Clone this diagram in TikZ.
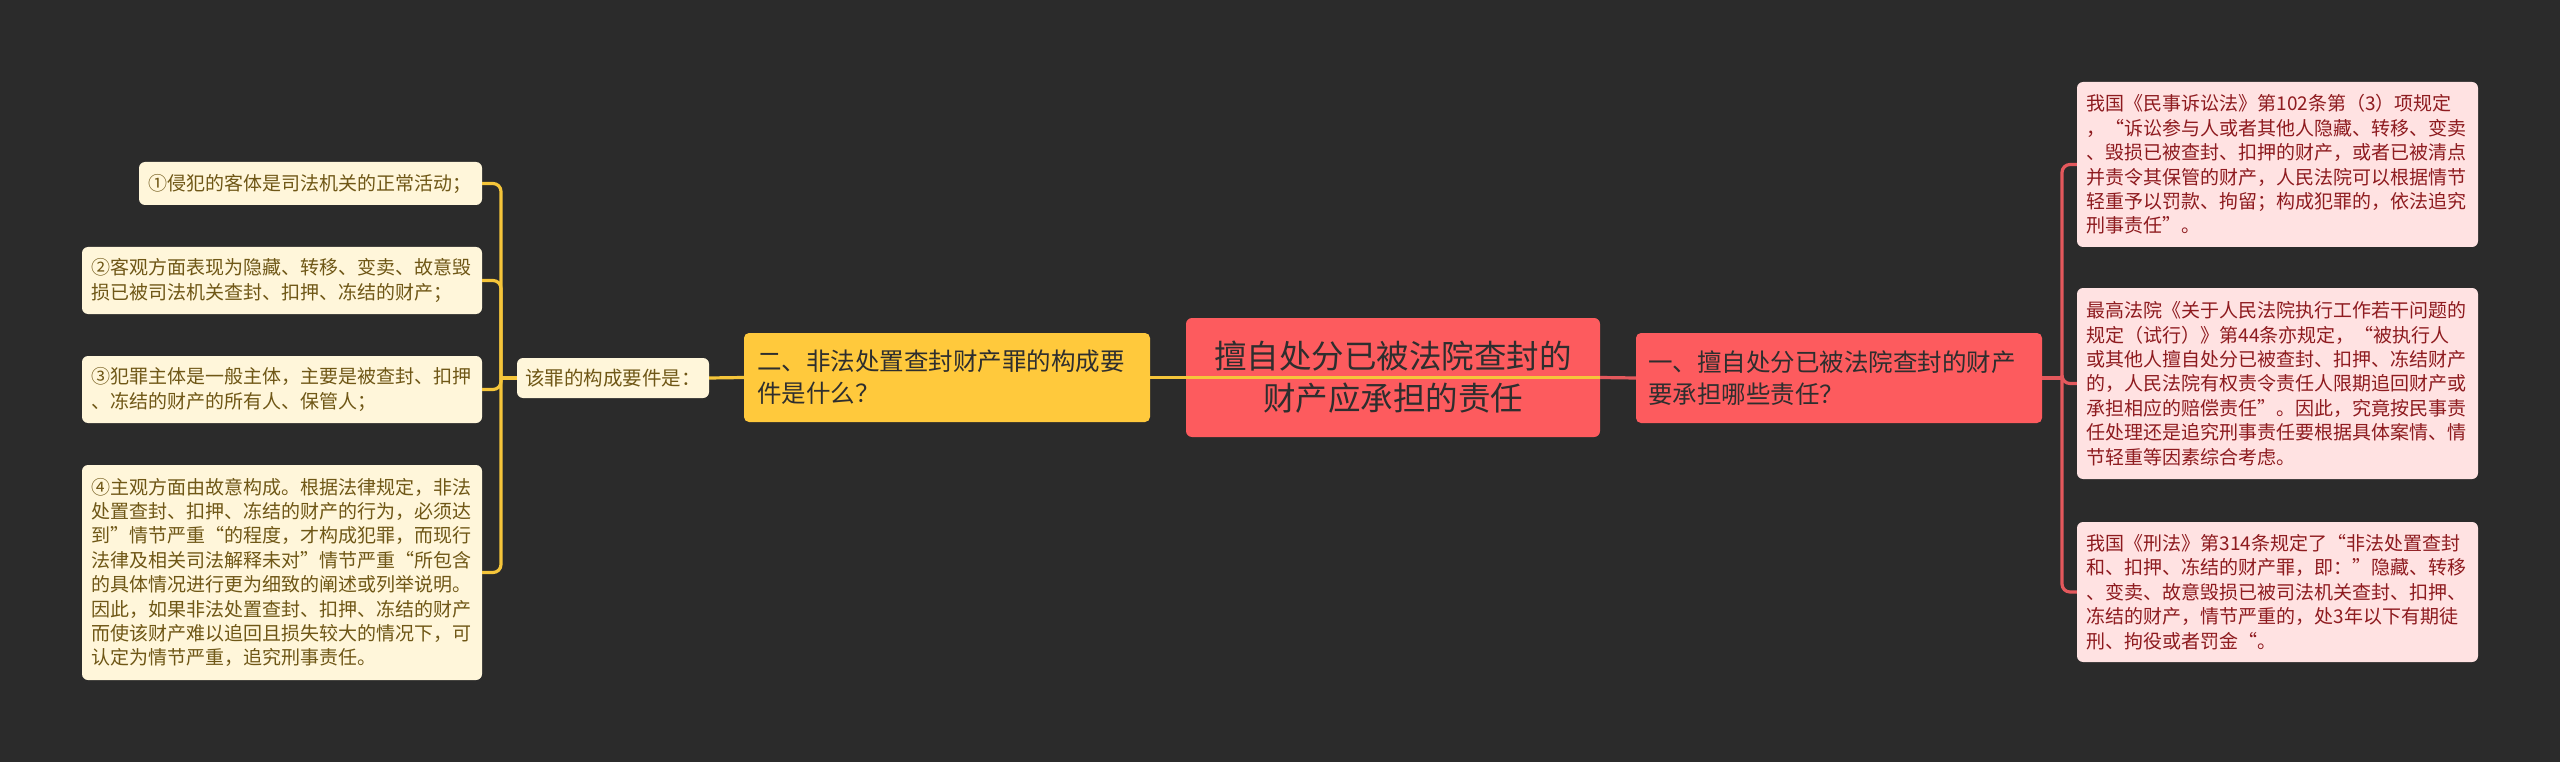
\documentclass[tikz,border=0pt]{standalone}
\usepackage{fontspec}
\setmainfont{Noto Sans CJK SC}
\definecolor{bgdark}{HTML}{2B2B2B}
\definecolor{rootred}{HTML}{FD5B5E}
\definecolor{gold}{HTML}{FFC93C}
\definecolor{cream}{HTML}{FFF6DA}
\definecolor{leafpink}{HTML}{FFE2E2}
\definecolor{olive}{HTML}{6F5716}
\definecolor{wine}{HTML}{8E1B1F}
\definecolor{inkgray}{HTML}{2E2E2E}
\definecolor{goldline}{HTML}{F5C53A}
\definecolor{redline}{HTML}{E4585C}

\begin{document}
\begin{tikzpicture}[x=1pt,y=-1pt]
    \tikzstyle{every node}+=[inner sep=0pt]
    \tikzstyle{rootbox}=[fill=rootred, rounded corners=6pt, text=inkgray, align=center, minimum width=414pt, minimum height=119pt, font=\fontsize{32.5}{42}\selectfont]
    \tikzstyle{redbox}=[fill=rootred, rounded corners=5pt, text=inkgray, align=left, inner xsep=12pt, text width=382pt, minimum height=90pt, font=\fontsize{24.5}{32}\selectfont]
    \tikzstyle{goldbox}=[fill=gold, rounded corners=5pt, text=inkgray, align=left, inner xsep=13pt, text width=380pt, minimum height=89pt, font=\fontsize{24.5}{32}\selectfont]
    \tikzstyle{subbox}=[fill=cream, rounded corners=6pt, text=olive, align=center, minimum width=192pt, minimum height=40pt, font=\fontsize{19.5}{24}\selectfont]
    \tikzstyle{creambox}=[fill=cream, rounded corners=6pt, text=olive, align=left, inner xsep=9.5pt, text width=381pt, font=\fontsize{19}{24.4}\selectfont]
    \tikzstyle{pinkbox}=[fill=leafpink, rounded corners=6pt, text=wine, align=left, inner xsep=9.5pt, text width=382pt, font=\fontsize{19}{24.4}\selectfont]
    \tikzstyle{yline}=[draw=goldline, line width=3.2pt]
    \tikzstyle{rline}=[draw=redline, line width=3.2pt]
    \fill [bgdark] (0,0) rectangle (2560,762);
    \useasboundingbox (0,0) rectangle (2560,762);
    \node [rootbox] (root) at (1393,377.5) {擅自处分已被法院查封的\\财产应承担的责任};
    \node [redbox] (one) at (1839,378) {一、擅自处分已被法院查封的财产\\要承担哪些责任？};
    \node [goldbox] (two) at (947,377.5) {二、非法处置查封财产罪的构成要\\件是什么？};
    \node [subbox] (cond) at (613,378) {该罪的构成要件是：};
    \node [creambox, text width=324pt, minimum height=43pt] (e1) at (310.5,183.5) {①侵犯的客体是司法机关的正常活动；};
    \node [creambox, minimum height=67pt] (e2) at (282,280.5) {②客观方面表现为隐藏、转移、变卖、故意毁\\
损已被司法机关查封、扣押、冻结的财产；};
    \node [creambox, minimum height=67pt] (e3) at (282,389.5) {③犯罪主体是一般主体，主要是被查封、扣押\\
、冻结的财产的所有人、保管人；};
    \node [creambox, minimum height=215pt] (e4) at (282,572.5) {④主观方面由故意构成。根据法律规定，非法\\
处置查封、扣押、冻结的财产的行为，必须达\\
到”情节严重“的程度，才构成犯罪，而现行\\
法律及相关司法解释未对”情节严重“所包含\\
的具体情况进行更为细致的阐述或列举说明。\\
因此，如果非法处置查封、扣押、冻结的财产\\
而使该财产难以追回且损失较大的情况下，可\\
认定为情节严重，追究刑事责任。};
    \node [pinkbox, minimum height=165pt] (r1) at (2277.5,164.5) {我国《民事诉讼法》第102条第（3）项规定\\
，“诉讼参与人或者其他人隐藏、转移、变卖\\
、毁损已被查封、扣押的财产，或者已被清点\\
并责令其保管的财产，人民法院可以根据情节\\
轻重予以罚款、拘留；构成犯罪的，依法追究\\
刑事责任”。};
    \node [pinkbox, minimum height=191pt] (r2) at (2277.5,383.5) {最高法院《关于人民法院执行工作若干问题的\\
规定（试行）》第44条亦规定，“被执行人\\
或其他人擅自处分已被查封、扣押、冻结财产\\
的，人民法院有权责令责任人限期追回财产或\\
承担相应的赔偿责任”。因此，究竟按民事责\\
任处理还是追究刑事责任要根据具体案情、情\\
节轻重等因素综合考虑。};
    \node [pinkbox, minimum height=140pt] (r3) at (2277.5,592) {我国《刑法》第314条规定了“非法处置查封\\
和、扣押、冻结的财产罪，即：”隐藏、转移\\
、变卖、故意毁损已被司法机关查封、扣押、\\
冻结的财产，情节严重的，处3年以下有期徒\\
刑、拘役或者罚金“。};
    \coordinate (lj) at (501,378);
    \coordinate (rj) at (2062,378);
    \draw [yline] (cond.west) -- (lj);
    \draw [yline, rounded corners=8pt] (lj) |- (e1.east);
    \draw [yline, rounded corners=8pt] (lj) |- (e2.east);
    \draw [yline, rounded corners=8pt] (lj) |- (e3.east);
    \draw [yline, rounded corners=8pt] (lj) |- (e4.east);
    \draw [yline] (cond.east) -- (two.west);
    \draw [yline] (two.east) -- (root.east);
    \draw [rline] (root.east) -- (one.west);
    \draw [rline] (one.east) -- (rj);
    \draw [rline, rounded corners=8pt] (rj) |- (r1.west);
    \draw [rline, rounded corners=8pt] (rj) |- (r2.west);
    \draw [rline, rounded corners=8pt] (rj) |- (r3.west);
\end{tikzpicture}
\end{document}
